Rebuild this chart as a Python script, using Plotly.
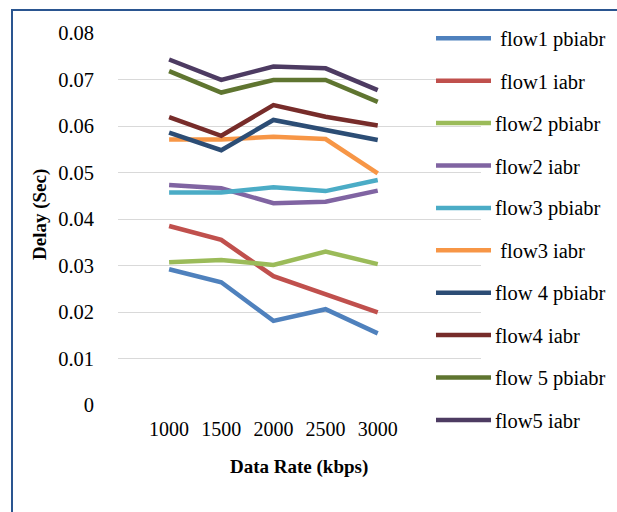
import plotly.graph_objects as go

W, H = 617, 512

x_labels = ["1000", "1500", "2000", "2500", "3000"]
y_ticks = [0, 0.01, 0.02, 0.03, 0.04, 0.05, 0.06, 0.07, 0.08]
y_tick_text = ["0", "0.01", "0.02", "0.03", "0.04", "0.05", "0.06", "0.07", "0.08"]

flow1_pbiabr = [0.0292, 0.0264, 0.0181, 0.0206, 0.0154]
flow1_iabr = [0.0385, 0.0355, 0.0277, 0.0237, 0.0199]
flow2_pbiabr = [0.0307, 0.0312, 0.0301, 0.0330, 0.0303]
flow2_iabr = [0.0473, 0.0466, 0.0434, 0.0437, 0.0461]
flow3_pbiabr = [0.0457, 0.0457, 0.0468, 0.0460, 0.0484]
flow3_iabr = [0.0571, 0.0571, 0.0577, 0.0572, 0.0498]
flow4_pbiabr = [0.0586, 0.0548, 0.0613, 0.0591, 0.0570]
flow4_iabr = [0.0619, 0.0579, 0.0645, 0.0620, 0.0601]
flow5_pbiabr = [0.0718, 0.0672, 0.0699, 0.0699, 0.0652]
flow5_iabr = [0.0743, 0.0699, 0.0728, 0.0724, 0.0677]

series_names = ["\u00a0flow1 pbiabr", "\u00a0flow1 iabr", "flow2 pbiabr", "flow2 iabr",
                "flow3 pbiabr", "\u00a0flow3 iabr", "flow 4 pbiabr", "flow4 iabr",
                "flow 5 pbiabr", "flow5 iabr"]
series_values = [flow1_pbiabr, flow1_iabr, flow2_pbiabr, flow2_iabr, flow3_pbiabr,
                 flow3_iabr, flow4_pbiabr, flow4_iabr, flow5_pbiabr, flow5_iabr]
colors = ["#4F81BD", "#C0504D", "#9BBB59", "#8064A2", "#4BACC6",
          "#F79646", "#2C4D75", "#772C2A", "#5F7530", "#4D3B62"]

FONT = "Liberation Serif"

def px(x):
    return x / W

def py(y):
    return 1 - y / H

fig = go.Figure()
for name, vals, col in zip(series_names, series_values, colors):
    fig.add_trace(go.Scatter(x=list(range(len(x_labels))), y=vals, mode="lines", name=name,
                             line=dict(color=col, width=4.5), showlegend=False))

shapes = []
annotations = []
# manual legend
leg_top, leg_step = 38.3, 42.4
for i, (name, col) in enumerate(zip(series_names, colors)):
    yy = leg_top + i * leg_step
    shapes.append(dict(type="line", xref="paper", yref="paper", x0=px(436), x1=px(491),
                       y0=py(yy), y1=py(yy), line=dict(color=col, width=4.5)))
    annotations.append(dict(text=name, xref="paper", yref="paper", x=px(493), y=py(yy + 1),
                            xanchor="left", yanchor="middle", showarrow=False,
                            font=dict(family=FONT, size=20.5, color="#000000")))

# chart border
shapes.append(dict(type="rect", xref="paper", yref="paper", x0=px(12), x1=px(700),
                   y0=py(600), y1=py(10), line=dict(color="#2A5590", width=2), layer="above"))

annotations.append(dict(text="<b>Data Rate (kbps)</b>", xref="paper", yref="paper",
                        x=px(299), y=py(467), xanchor="center", yanchor="middle",
                        showarrow=False, font=dict(family=FONT, size=19, color="#000000")))
annotations.append(dict(text="<b>Delay (Sec)</b>", xref="paper", yref="paper",
                        x=px(40), y=py(215), xanchor="center", yanchor="middle",
                        textangle=-90, showarrow=False,
                        font=dict(family=FONT, size=19, color="#000000")))

fig.update_layout(
    width=W, height=H,
    margin=dict(l=0, r=0, t=0, b=0),
    paper_bgcolor="white", plot_bgcolor="rgba(0,0,0,0)",
    shapes=shapes, annotations=annotations,
    font=dict(family=FONT),
    xaxis=dict(domain=[px(118), px(481)], range=[-0.98, 5.98],
               tickmode="array", tickvals=list(range(len(x_labels))), ticktext=x_labels,
               showgrid=False, zeroline=False, showline=False, ticks="",
               tickfont=dict(family=FONT, size=20, color="#000000"),
               automargin=False, ticklabelstandoff=10),
    yaxis=dict(domain=[py(405), py(33)], range=[0, 0.08],
               tickmode="array", tickvals=y_ticks, ticktext=y_tick_text,
               showgrid=True, gridcolor="#D9D9D9", gridwidth=1.3,
               zeroline=False, showline=False, ticks="",
               tickfont=dict(family=FONT, size=20.5, color="#000000"),
               automargin=False, ticklabelstandoff=23),
)

fig.write_html("out.html")
